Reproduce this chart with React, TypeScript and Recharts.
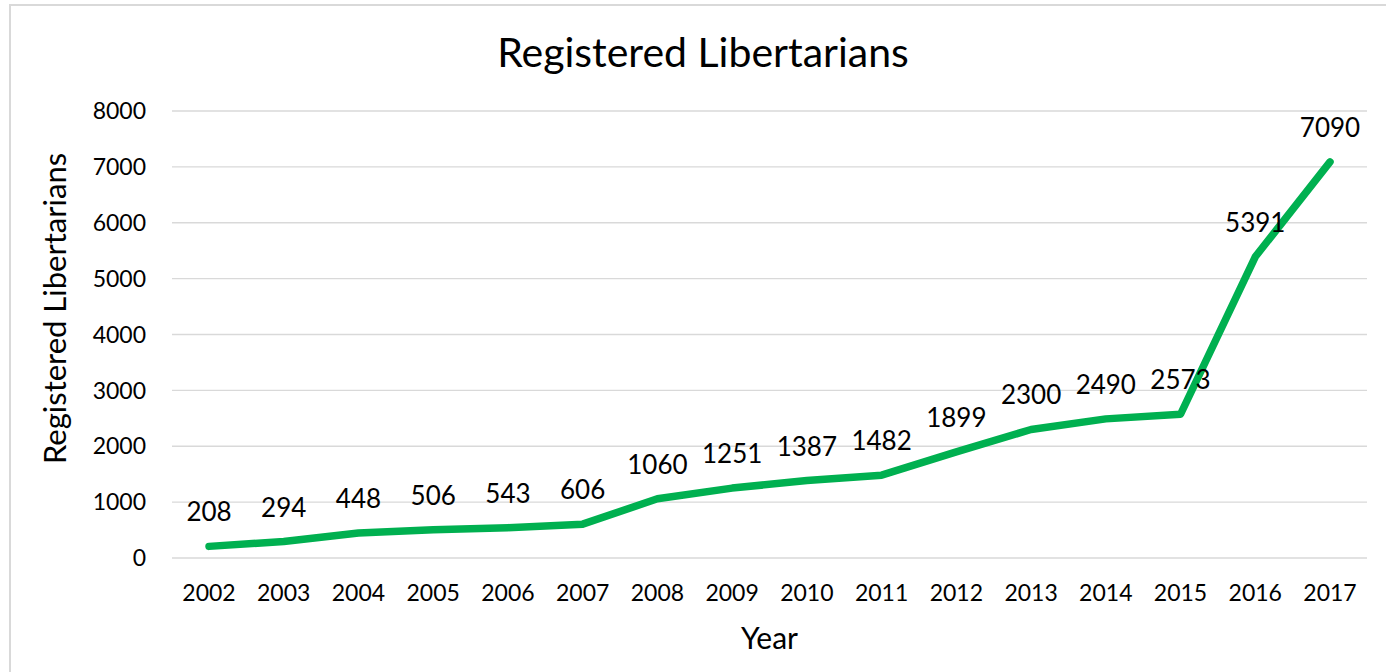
import { LineChart, Line, XAxis, YAxis, CartesianGrid, LabelList, Label } from "recharts"

const years = ["2002", "2003", "2004", "2005", "2006", "2007", "2008", "2009", "2010", "2011", "2012", "2013", "2014", "2015", "2016", "2017"]
const registered = [208, 294, 448, 506, 543, 606, 1060, 1251, 1387, 1482, 1899, 2300, 2490, 2573, 5391, 7090]
const yTicks = [0, 1000, 2000, 3000, 4000, 5000, 6000, 7000, 8000]

const data = years.map((year, i) => ({ year, value: registered[i] }))

const FONT = "Lato, 'Open Sans', sans-serif"

export default function App() {
  return (
    <div style={{ position: "absolute", left: 0, top: 0, width: 1386, height: 672, background: "#fff", overflow: "hidden", fontFamily: FONT }}>
      <div
        style={{
          position: "absolute",
          left: 9,
          top: 4,
          width: 1380,
          height: 680,
          border: "2px solid #d9d9d9",
          boxSizing: "border-box",
        }}
      />
      <div
        style={{
          position: "absolute",
          left: 0,
          width: 1406,
          top: 27,
          lineHeight: "50px",
          textAlign: "center",
          fontSize: 41,
          color: "#000",
        }}
      >
        Registered Libertarians
      </div>
      <LineChart
        width={1386}
        height={672}
        data={data}
        margin={{ top: 111, right: 19, bottom: 4, left: 72 }}
        style={{ position: "absolute", left: 0, top: 0 }}
      >
        <CartesianGrid vertical={false} stroke="#d9d9d9" strokeWidth={1.3} />
        <XAxis
          dataKey="year"
          axisLine={false}
          tickLine={false}
          tickSize={0}
          tickMargin={27}
          tick={{ fill: "#000", fontSize: 23, fontFamily: FONT }}
          interval={0}
          height={110}
          padding={{ left: 37, right: 37 }}
        >
          <Label value="Year" position="insideTop" offset={0} dy={70} fill="#000" fontSize={30} fontFamily={FONT} />
        </XAxis>
        <YAxis
          domain={[0, 8000]}
          ticks={yTicks}
          axisLine={false}
          tickLine={false}
          tickSize={0}
          tickMargin={26}
          width={100}
          tick={{ fill: "#000", fontSize: 23, fontFamily: FONT }}
        >
          <Label
            value="Registered Libertarians"
            angle={-90}
            position="center"
            dx={-67}
            dy={-26}
            fill="#000"
            fontSize={31}
            fontFamily={FONT}
          />
        </YAxis>
        <Line
          dataKey="value"
          stroke="#00b050"
          strokeWidth={7.5}
          strokeLinecap="round"
          strokeLinejoin="round"
          dot={false}
          activeDot={false}
          isAnimationActive={false}
        >
          <LabelList dataKey="value" position="top" offset={25} fill="#000" fontSize={26} fontFamily={FONT} />
        </Line>
      </LineChart>
    </div>
  )
}
